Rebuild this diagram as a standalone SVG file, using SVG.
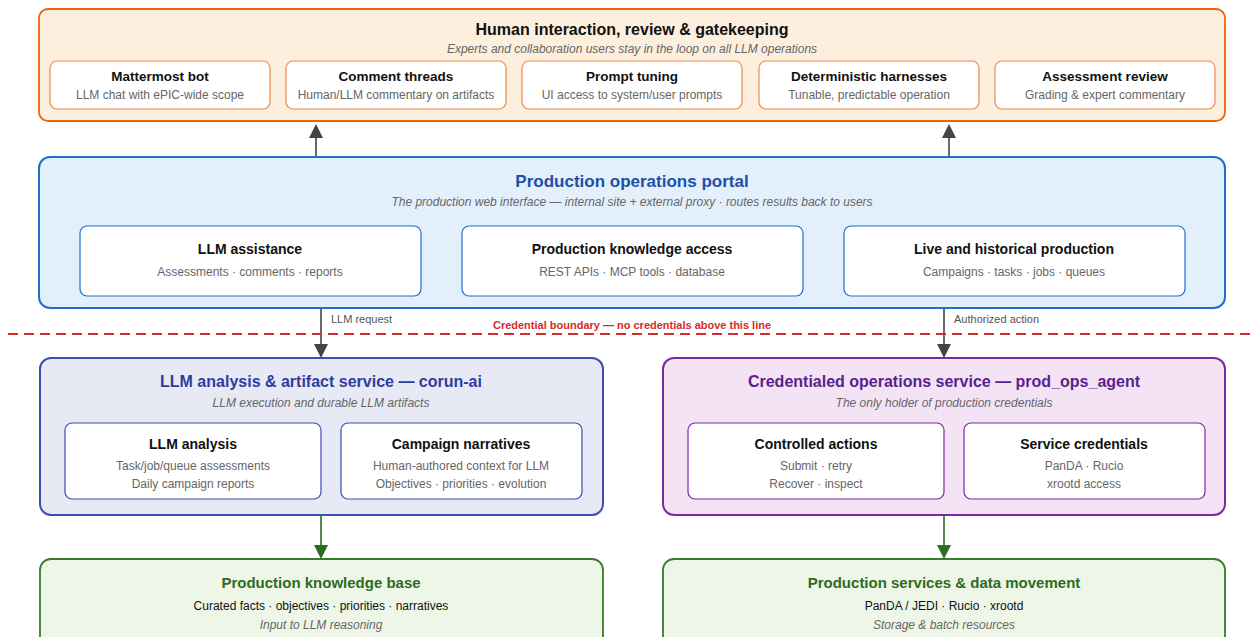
<svg xmlns="http://www.w3.org/2000/svg" width="1255" height="637" viewBox="0 0 1255 637">
  <style>
    text { font-family: "Liberation Sans", Arial, sans-serif; text-anchor: middle; }
    .gt { font-size: 16px; font-weight: bold; }
    .gt.portal { font-size: 17px; }
    .gt.base { font-size: 15px; }
    .gs { font-size: 12px; font-style: italic; fill: #666; }
    .nt { font-size: 14px; font-weight: bold; fill: #111; }
    .nt.sm { font-size: 13.5px; }
    .ns { font-size: 12px; fill: #666; }
    .inner { fill: #fff; stroke-width: 1.2; }
    .lbl { font-size: 11px; fill: #555; text-anchor: start; }
    .conn { stroke: #444; stroke-width: 1.6; fill: none; }
    .gconn { stroke: #2e6b23; stroke-width: 1.6; fill: none; }
  </style>
  <rect width="1255" height="637" fill="#fff"/>

  <!-- Connectors -->
  <g id="connectors">
    <path class="conn" d="M316,157 V136"/>
    <path d="M316,124 l-7,14 h14 z" fill="#444"/>
    <path class="conn" d="M949,157 V136"/>
    <path d="M949,124 l-7,14 h14 z" fill="#444"/>
    <path class="conn" d="M421,261 H462"/>
    <path class="conn" d="M803,261 H844"/>
    <path class="conn" d="M321,308 V345"/>
    <path d="M321,358 l-7,-14 h14 z" fill="#444"/>
    <path class="conn" d="M944,308 V345"/>
    <path d="M944,358 l-7,-14 h14 z" fill="#444"/>
    <path class="gconn" d="M321,515 V546"/>
    <path d="M321,559 l-7,-14 h14 z" fill="#2e6b23"/>
    <path class="gconn" d="M944,515 V546"/>
    <path d="M944,559 l-7,-14 h14 z" fill="#2e6b23"/>
    <text class="lbl" x="331" y="323">LLM request</text>
    <text class="lbl" x="954" y="323">Authorized action</text>
  </g>

  <!-- Credential boundary -->
  <g id="boundary">
    <line x1="8" y1="334" x2="1255" y2="334" stroke="#d62b2b" stroke-width="2" stroke-dasharray="10,6"/>
    <text x="632" y="329" font-size="11" font-weight="bold" fill="#d62b2b">Credential boundary — no credentials above this line</text>
  </g>

  <!-- Human interaction layer -->
  <g id="human">
    <rect x="39" y="9" width="1186" height="112" rx="9" fill="#fdefdd" stroke="#e8650f" stroke-width="1.8"/>
    <text class="gt" x="632" y="35" fill="#111">Human interaction, review &amp; gatekeeping</text>
    <text class="gs" x="632" y="53">Experts and collaboration users stay in the loop on all LLM operations</text>
    <g id="mattermost">
      <rect class="inner" x="50" y="61" width="220" height="48" rx="7" stroke="#ee8a4c"/>
      <text class="nt sm" x="160" y="81">Mattermost bot</text>
      <text class="ns" x="160" y="99">LLM chat with ePIC-wide scope</text>
    </g>
    <g id="comments">
      <rect class="inner" x="286" y="61" width="220" height="48" rx="7" stroke="#ee8a4c"/>
      <text class="nt sm" x="396" y="81">Comment threads</text>
      <text class="ns" x="396" y="99">Human/LLM commentary on artifacts</text>
    </g>
    <g id="prompt">
      <rect class="inner" x="522" y="61" width="220" height="48" rx="7" stroke="#ee8a4c"/>
      <text class="nt sm" x="632" y="81">Prompt tuning</text>
      <text class="ns" x="632" y="99">UI access to system/user prompts</text>
    </g>
    <g id="harness">
      <rect class="inner" x="759" y="61" width="220" height="48" rx="7" stroke="#ee8a4c"/>
      <text class="nt sm" x="869" y="81">Deterministic harnesses</text>
      <text class="ns" x="869" y="99">Tunable, predictable operation</text>
    </g>
    <g id="assessment">
      <rect class="inner" x="995" y="61" width="220" height="48" rx="7" stroke="#ee8a4c"/>
      <text class="nt sm" x="1105" y="81">Assessment review</text>
      <text class="ns" x="1105" y="99">Grading &amp; expert commentary</text>
    </g>
  </g>

  <!-- Portal -->
  <g id="portal">
    <rect x="39" y="157" width="1186" height="151" rx="11" fill="#e3f0fb" stroke="#1f6fc9" stroke-width="2"/>
    <text class="gt portal" x="632" y="187" fill="#1d4fa8">Production operations portal</text>
    <text class="gs" x="632" y="206">The production web interface — internal site + external proxy · routes results back to users</text>
    <g id="llm-assist">
      <rect class="inner" x="80" y="226" width="341" height="70" rx="7" stroke="#1f6fc9"/>
      <text class="nt" x="250" y="254">LLM assistance</text>
      <text class="ns" x="250" y="276">Assessments · comments · reports</text>
    </g>
    <g id="knowledge-access">
      <rect class="inner" x="462" y="226" width="341" height="70" rx="7" stroke="#1f6fc9"/>
      <text class="nt" x="632" y="254">Production knowledge access</text>
      <text class="ns" x="632" y="276">REST APIs · MCP tools · database</text>
    </g>
    <g id="live-prod">
      <rect class="inner" x="844" y="226" width="341" height="70" rx="7" stroke="#1f6fc9"/>
      <text class="nt" x="1014" y="254">Live and historical production</text>
      <text class="ns" x="1014" y="276">Campaigns · tasks · jobs · queues</text>
    </g>
  </g>

  <!-- LLM analysis service -->
  <g id="corun-ai">
    <rect x="40" y="358" width="563" height="157" rx="11" fill="#e7e9f5" stroke="#3d4db0" stroke-width="2"/>
    <text class="gt" x="321" y="387" fill="#2f3da0">LLM analysis &amp; artifact service — corun-ai</text>
    <text class="gs" x="321" y="407">LLM execution and durable LLM artifacts</text>
    <g id="llm-analysis">
      <rect class="inner" x="65" y="423" width="256" height="76" rx="7" stroke="#3d4db0"/>
      <text class="nt" x="193" y="449">LLM analysis</text>
      <text class="ns" x="193" y="470">Task/job/queue assessments</text>
      <text class="ns" x="193" y="488">Daily campaign reports</text>
    </g>
    <g id="narratives">
      <rect class="inner" x="341" y="423" width="241" height="76" rx="7" stroke="#3d4db0"/>
      <text class="nt" x="461" y="449">Campaign narratives</text>
      <text class="ns" x="461" y="470">Human-authored context for LLM</text>
      <text class="ns" x="461" y="488">Objectives · priorities · evolution</text>
    </g>
  </g>

  <!-- Credentialed operations service -->
  <g id="prod-ops-agent">
    <rect x="663" y="358" width="562" height="157" rx="11" fill="#f3e3f4" stroke="#7b2aa5" stroke-width="2"/>
    <text class="gt" x="944" y="387" fill="#5b1f8f">Credentialed operations service — prod_ops_agent</text>
    <text class="gs" x="944" y="407">The only holder of production credentials</text>
    <g id="actions">
      <rect class="inner" x="688" y="423" width="256" height="76" rx="7" stroke="#7b2aa5"/>
      <text class="nt" x="816" y="449">Controlled actions</text>
      <text class="ns" x="816" y="470">Submit · retry</text>
      <text class="ns" x="816" y="488">Recover · inspect</text>
    </g>
    <g id="creds">
      <rect class="inner" x="964" y="423" width="241" height="76" rx="7" stroke="#7b2aa5"/>
      <text class="nt" x="1084" y="449">Service credentials</text>
      <text class="ns" x="1084" y="470">PanDA · Rucio</text>
      <text class="ns" x="1084" y="488">xrootd access</text>
    </g>
  </g>

  <!-- Knowledge base -->
  <g id="knowledge-base">
    <rect x="40" y="559" width="563" height="100" rx="11" fill="#eef6e8" stroke="#3a7a2c" stroke-width="1.8"/>
    <text class="gt base" x="321" y="588" fill="#2e6b23">Production knowledge base</text>
    <text x="321" y="610" font-size="12" fill="#111">Curated facts · objectives · priorities · narratives</text>
    <text class="gs" x="321" y="629">Input to LLM reasoning</text>
  </g>

  <!-- Production services -->
  <g id="prod-services">
    <rect x="663" y="559" width="562" height="100" rx="11" fill="#eef6e8" stroke="#3a7a2c" stroke-width="1.8"/>
    <text class="gt base" x="944" y="588" fill="#2e6b23">Production services &amp; data movement</text>
    <text x="944" y="610" font-size="12" fill="#111">PanDA / JEDI · Rucio · xrootd</text>
    <text class="gs" x="944" y="629">Storage &amp; batch resources</text>
  </g>
</svg>
